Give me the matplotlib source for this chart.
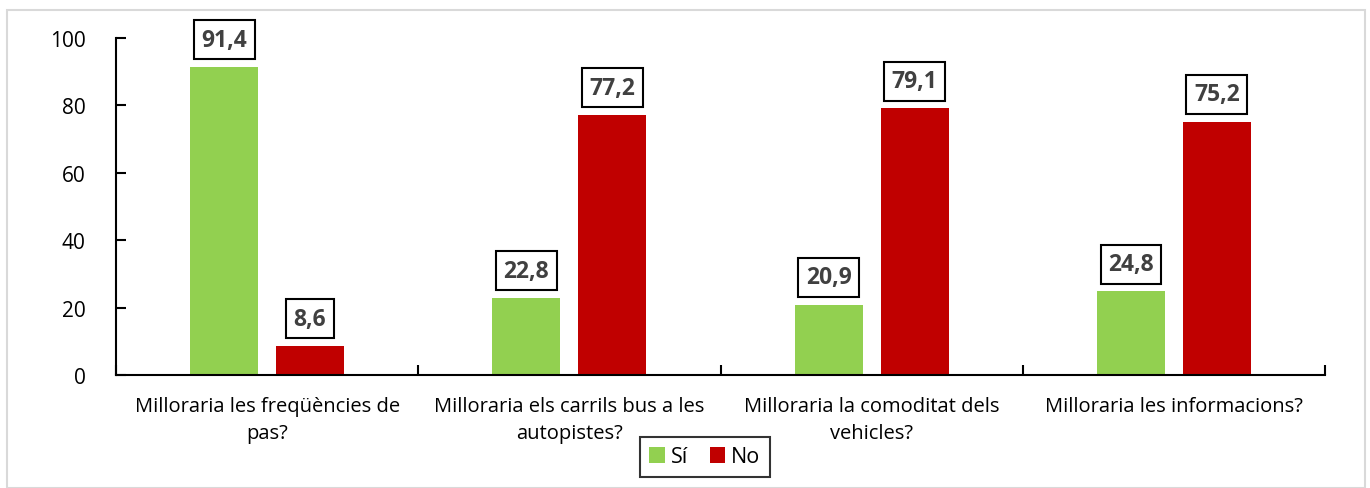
import matplotlib.pyplot as plt
import numpy as np
from matplotlib.patches import Rectangle

plt.rcParams['font.family'] = ['Open Sans', 'DejaVu Sans']

categories = ['Milloraria les freqüències de\npas?',
              'Milloraria els carrils bus a les\nautopistes?',
              'Milloraria la comoditat dels\nvehicles?',
              'Milloraria les informacions?']
si = [91.4, 22.8, 20.9, 24.8]
no = [8.6, 77.2, 79.1, 75.2]

fig = plt.figure(figsize=(13.7, 4.89), dpi=100)
fig.patches.append(Rectangle((7/1370, 0), 1358/1370, 1 - 11/489, transform=fig.transFigure,
                             fill=False, edgecolor='#d9d9d9', lw=1.5))
ax = fig.add_axes([116/1370, 1 - 376/489, (1325-116)/1370, (376-39)/489])

x = np.arange(len(categories))
w = 0.225
off = 0.142
b1 = ax.bar(x - off, si, w, color='#92d050', label='Sí')
b2 = ax.bar(x + off, no, w, color='#c00000', label='No')

for bars in (b1, b2):
    for r in bars:
        v = r.get_height()
        ax.annotate(f'{v:.1f}'.replace('.', ','), (r.get_x() + r.get_width()/2, v),
                    xytext=(0, 11), textcoords='offset points', ha='center', va='bottom',
                    fontsize=16.5, fontweight='bold', color='#404040',
                    bbox=dict(boxstyle='square,pad=0.33', fc='white', ec='black', lw=1.5))

ax.set_xlim(-0.5, 3.5)
ax.set_ylim(0, 100)
ax.set_yticks(range(0, 101, 20))
ax.set_xticks(x)
ax.set_xticklabels(categories, fontsize=14.5, linespacing=1.45)
ax.set_xticks(np.arange(-0.5, 4, 1), minor=True)
ax.tick_params(axis='x', which='major', length=0, pad=15)
ax.tick_params(axis='x', which='minor', direction='in', length=7, width=1.5)
ax.tick_params(axis='y', direction='in', length=7, width=1.5, labelsize=15, pad=22)
for s in ('top', 'right'):
    ax.spines[s].set_visible(False)
for s in ('left', 'bottom'):
    ax.spines[s].set_linewidth(1.5)

leg = fig.legend(loc='center', bbox_to_anchor=(705/1370, 1 - 458/489), ncol=2, fontsize=15.5,
                 frameon=True, fancybox=False, edgecolor='black', handlelength=0.7,
                 handleheight=0.7, handletextpad=0.3, columnspacing=1.0, borderpad=0.45)
leg.get_frame().set_linewidth(1.5)

fig.savefig('out.png', dpi=100)
